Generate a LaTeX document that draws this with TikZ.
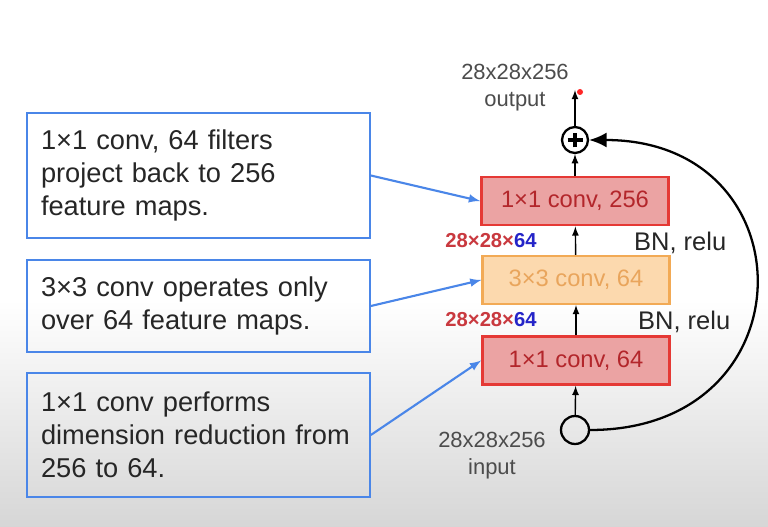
\documentclass[tikz,border=0pt]{standalone}
\usepackage{fontspec}
\setmainfont{Liberation Sans}
\usetikzlibrary{arrows.meta}

\definecolor{noteblue}{HTML}{4A86E8}
\definecolor{convred}{HTML}{E53935}
\definecolor{convfill}{HTML}{EBA3A3}
\definecolor{convtext}{HTML}{B3262B}
\definecolor{midorange}{HTML}{F2AA55}
\definecolor{midfill}{HTML}{FCD9AE}
\definecolor{midtext}{HTML}{E9A55C}
\definecolor{dimred}{HTML}{C9393F}
\definecolor{dimblue}{HTML}{2424C8}

\tikzset{
  note/.style={draw=noteblue, line width=1pt, align=left,
    text width=6.3cm, minimum width=6.86cm, inner sep=0.26cm,
    font=\fontsize{15.5}{18.7}\selectfont, text=black!85},
  conv/.style={draw=convred, line width=1.6pt, fill=convfill, text=convtext,
    minimum width=3.74cm, minimum height=0.96cm,
    font=\fontsize{13.5}{15}\selectfont},
  convmid/.style={conv, draw=midorange, line width=1.2pt, fill=midfill, text=midtext},
  dimlabel/.style={font=\fontsize{11.5}{13}\selectfont\bfseries, text=dimred},
  sizetext/.style={text=black!70, align=center, font=\fontsize{12.5}{15.3}\selectfont},
  bnlabel/.style={font=\fontsize{14.5}{17}\selectfont, text=black!85},
}

\begin{document}
\begin{tikzpicture}[x=0.02cm, y=-0.02cm]
\fill[white] (0,0) rectangle (768,527);
\shade[top color=white, bottom color=black!16] (0,300) rectangle (768,527);
\useasboundingbox (0,0) rectangle (768,527);

% notes on the left
\node[note, minimum height=2.5cm] (noteproj) at (198.5,175.5) {1\texttimes1 conv, 64 filters\\project back to 256\\feature maps.};
\node[note, minimum height=1.84cm] (notemid) at (198.5,306) {3\texttimes3 conv operates only\\over 64 feature maps.};
\node[note, minimum height=2.48cm] (notered) at (198.5,435) {1\texttimes1 conv performs\\dimension reduction from\\256 to 64.};

% bottleneck block
\node[conv] (convtop) at (575,201) {1\texttimes1 conv, 256};
\node[convmid] (convmid) at (576,280) {3\texttimes3 conv, 64};
\node[conv] (convbot) at (576,360.5) {1\texttimes1 conv, 64};

\node[circle, draw, line width=1.3pt, minimum size=0.56cm, inner sep=0] (in) at (575,430) {};
\node[circle, draw, line width=1.3pt, minimum size=0.52cm, inner sep=0,
  path picture={\draw[line width=1.8pt] (path picture bounding box.center) ++(-1.5mm,0) -- ++(3mm,0);
                \draw[line width=1.8pt] (path picture bounding box.center) ++(0,-1.5mm) -- ++(0,3mm);}] (plus) at (575,140) {};
\coordinate (out) at (575,90);
\fill[red!80!pink] (580,92) circle (3);

\node[sizetext] at (515,88) {28x28x256\\output};
\node[sizetext] at (492,456) {28x28x256\\input};

\node[dimlabel] (dimtop) at (491,241) {28\texttimes28\texttimes\textcolor{dimblue}{64}};
\node[dimlabel] (dimbot) at (491,320) {28\texttimes28\texttimes\textcolor{dimblue}{64}};
\node[bnlabel, anchor=west] (bntop) at (628,243) {BN, relu};
\node[bnlabel, anchor=west] (bnbot) at (632,322) {BN, relu};

% main path
\draw[->, >=latex, line width=0.8pt] (in) -- (convbot);
\draw[->, >=latex, line width=0.8pt] (convbot) -- (convmid);
\draw[->, >=latex, line width=0.8pt] (convmid) -- (convtop);
\draw[->, >=latex, line width=0.8pt] (convtop) -- (plus);
\draw[->, >=latex, line width=0.8pt] (plus) -- (out);

% identity shortcut
\draw[-{Latex[length=3.5mm, width=3mm]}, line width=1.3pt] (in.east) to[out=0, in=0, looseness=1.95] (plus.east);

% pointers from the notes
\draw[->, >=latex, noteblue, line width=1.2pt] (noteproj.east) -- (convtop.west);
\draw[->, >=latex, noteblue, line width=1.2pt] (notemid.east) -- (convmid.west);
\draw[->, >=latex, noteblue, line width=1.2pt] (notered.east) -- (convbot.west);
\end{tikzpicture}
\end{document}
